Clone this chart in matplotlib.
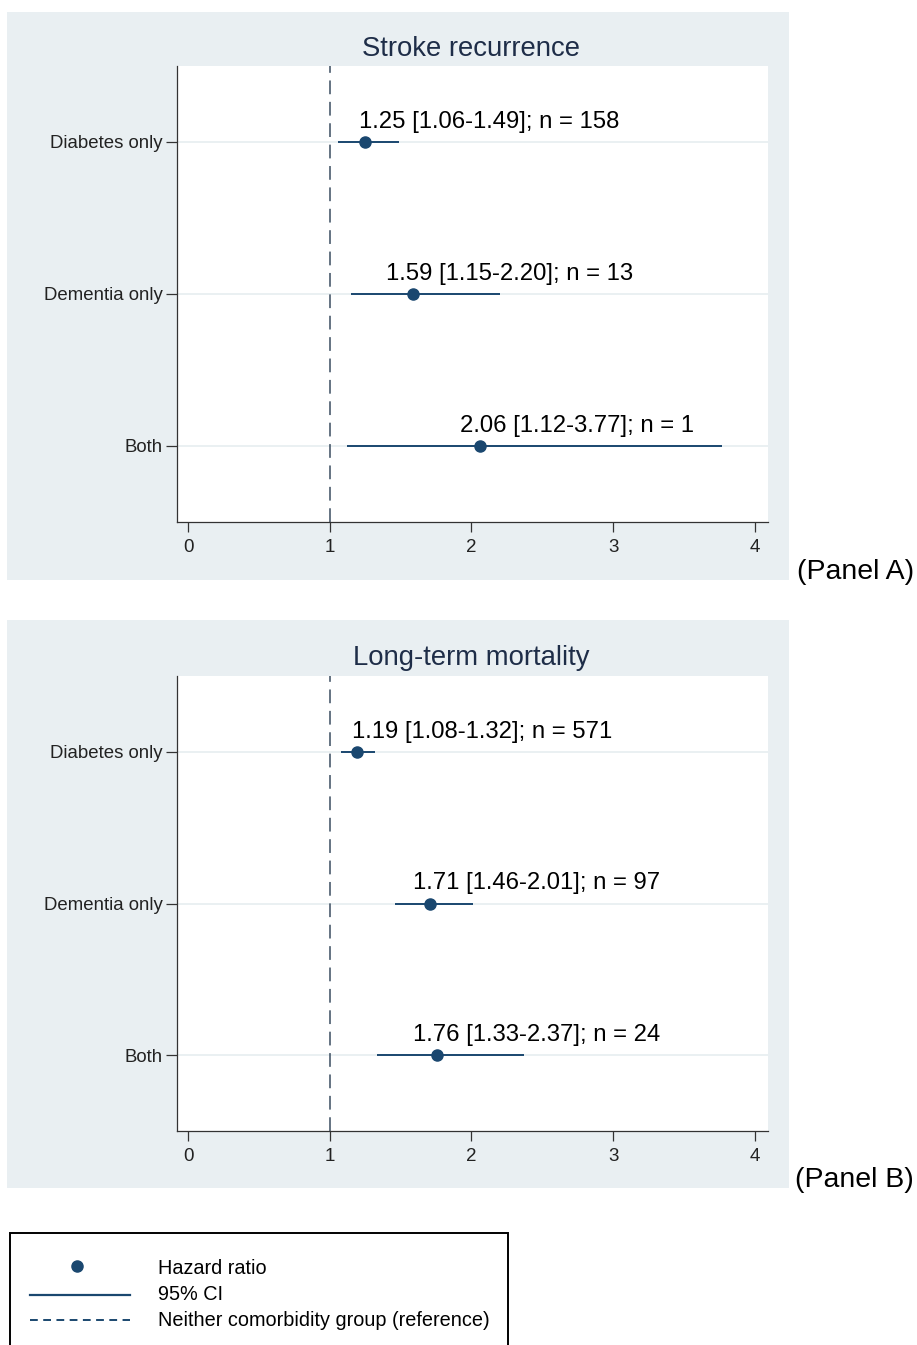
import matplotlib
matplotlib.use("Agg")
import matplotlib.pyplot as plt
from matplotlib.patches import Rectangle
from matplotlib.lines import Line2D

plt.rcParams['font.family'] = ['Liberation Sans', 'DejaVu Sans']

categories = ["Diabetes only", "Dementia only", "Both"]
cat_pos = [3, 2, 1]

# Panel A: Stroke recurrence
hr_a = [1.25, 1.59, 2.06]
lo_a = [1.06, 1.15, 1.12]
hi_a = [1.49, 2.20, 3.77]
n_a = [158, 13, 1]
label_x_a = [1.207, 1.397, 1.920]

# Panel B: Long-term mortality
hr_b = [1.19, 1.71, 1.76]
lo_b = [1.08, 1.46, 1.33]
hi_b = [1.32, 2.01, 2.37]
n_b = [571, 97, 24]
label_x_b = [1.157, 1.588, 1.588]

titles = ["Stroke recurrence", "Long-term mortality"]
panel_labels = ["(Panel A)", "(Panel B)"]
xticks = [0, 1, 2, 3, 4]

W, H = 917, 1345
fig = plt.figure(figsize=(W / 100, H / 100), dpi=100)
fig.patch.set_facecolor('white')

NAVY = '#1a476f'
BG = '#e9eff2'
TITLE_C = '#1e2d48'


def fx(px):
    return px / W


def fy(py):
    return 1 - py / H


def draw_panel(bg_top, bg_bot, ax_top, ax_bot, title_y, hr, lo, hi, n, label_x, title, plabel):
    fig.patches.append(Rectangle((fx(7), fy(bg_bot)), fx(789) - fx(7), fy(bg_top) - fy(bg_bot),
                                 transform=fig.transFigure, facecolor=BG, edgecolor='none', zorder=-5))
    ax = fig.add_axes([fx(177), fy(ax_bot), fx(768) - fx(177), fy(ax_top) - fy(ax_bot)])
    ax.set_zorder(1)
    ax.set_facecolor('white')
    ax.set_xlim(-0.078, 4.093)
    ax.set_ylim(0.5, 3.5)
    for y in cat_pos:
        ax.axhline(y, color='#e6eef0', lw=1.2, zorder=1)
    ax.axvline(1, color='#3a4d60', lw=1.1, ls=(0, (9, 5)), zorder=2)
    ax.hlines(cat_pos, lo, hi, color=NAVY, lw=1.4, zorder=3)
    ax.plot(hr, cat_pos, 'o', color=NAVY, ms=8, zorder=4)
    for yv, h, l, u, nn, lx in zip(cat_pos, hr, lo, hi, n, label_x):
        ax.annotate(f"{h:.2f} [{l:.2f}-{u:.2f}]; n = {nn}", xy=(lx, yv), xytext=(0, 14.5),
                    textcoords='offset points', ha='left', va='center', fontsize=17.2, color='black')
    ax.set_yticks(cat_pos)
    ax.set_yticklabels(categories, fontsize=13.4, color='#222222')
    ax.set_xticks(xticks)
    ax.set_xticklabels([str(t) for t in xticks], fontsize=13.5, color='#222222')
    ax.tick_params(axis='y', length=8, width=0.9, color='#333333', pad=2)
    ax.tick_params(axis='x', length=7, width=0.9, color='#333333', pad=5)
    for s in ['top', 'right']:
        ax.spines[s].set_visible(False)
    for s in ['left', 'bottom']:
        ax.spines[s].set_color('#333333')
        ax.spines[s].set_linewidth(0.9)
    fig.text(fx(471), fy(title_y), title, ha='center', va='center', fontsize=19.8, color=TITLE_C)
    fig.text(fx(914), fy(bg_bot - 8), plabel, ha='right', va='center', fontsize=20.5, color='black')
    return ax


draw_panel(12, 580, 66, 522, 49, hr_a, lo_a, hi_a, n_a, label_x_a, titles[0], panel_labels[0])
draw_panel(620, 1188, 676, 1131, 658, hr_b, lo_b, hi_b, n_b, label_x_b, titles[1], panel_labels[1])

# Legend box
fig.patches.append(Rectangle((fx(10), fy(1360)), fx(508) - fx(10), fy(1233) - fy(1360),
                             transform=fig.transFigure, facecolor='white', edgecolor='black',
                             lw=1.4, zorder=5))
fig.lines.append(Line2D([fx(77)], [fy(1266)], marker='o', ms=8, color=NAVY, ls='none',
                        transform=fig.transFigure, zorder=6))
fig.lines.append(Line2D([fx(30), fx(130)], [fy(1295), fy(1295)], color=NAVY, lw=1.6,
                        transform=fig.transFigure, zorder=6))
fig.lines.append(Line2D([fx(30), fx(130)], [fy(1320), fy(1320)], color=NAVY, lw=1.4,
                        ls=(0, (4, 2.8)), transform=fig.transFigure, zorder=6))
legend_texts = ["Hazard ratio", "95% CI", "Neither comorbidity group (reference)"]
for t, yy in zip(legend_texts, [1269, 1295, 1321]):
    fig.text(fx(158), fy(yy), t, ha='left', va='center', fontsize=14.3, color='black', zorder=7)

fig.savefig("out.png", dpi=100)
